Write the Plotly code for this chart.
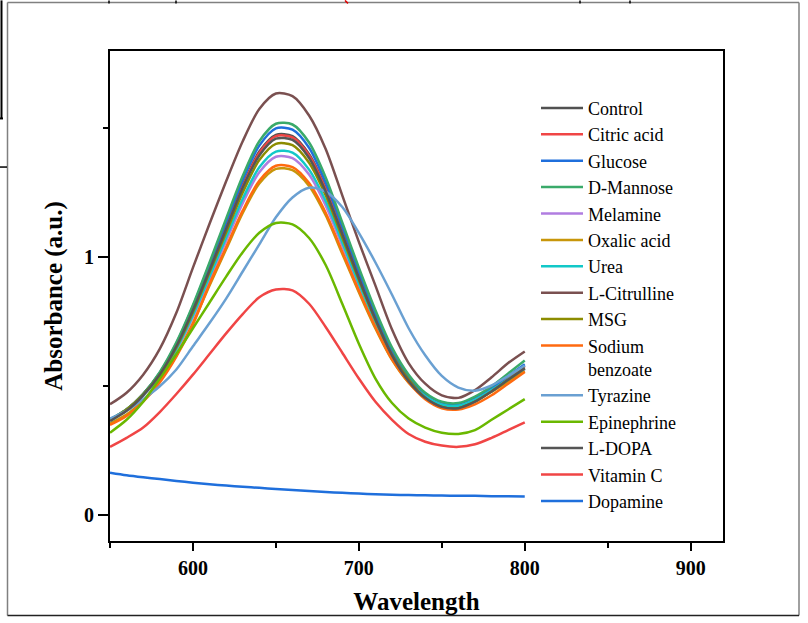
import plotly.graph_objects as go

wavelength = [550, 560, 570, 580, 590, 600, 610, 620, 630, 640, 650, 660, 670,
              680, 690, 700, 710, 720, 730, 740, 750, 760, 770, 780, 790, 800]

control = [0.37, 0.41, 0.47, 0.55, 0.66, 0.80, 0.96, 1.12, 1.28, 1.41, 1.475, 1.47, 1.40,
           1.27, 1.10, 0.93, 0.77, 0.63, 0.53, 0.465, 0.43, 0.425, 0.45, 0.49, 0.535, 0.58]
citric_acid = [0.37, 0.41, 0.47, 0.55, 0.66, 0.80, 0.955, 1.115, 1.275, 1.405, 1.47, 1.465, 1.395,
               1.265, 1.095, 0.925, 0.765, 0.625, 0.525, 0.46, 0.425, 0.42, 0.445, 0.485, 0.53, 0.575]
glucose = [0.37, 0.41, 0.47, 0.553, 0.666, 0.81, 0.973, 1.137, 1.30, 1.433, 1.50, 1.495, 1.425,
           1.29, 1.12, 0.945, 0.78, 0.64, 0.538, 0.47, 0.435, 0.43, 0.455, 0.495, 0.54, 0.585]
d_mannose = [0.37, 0.41, 0.47, 0.555, 0.67, 0.815, 0.98, 1.15, 1.315, 1.45, 1.518, 1.515, 1.445,
             1.31, 1.135, 0.96, 0.795, 0.65, 0.545, 0.475, 0.44, 0.435, 0.46, 0.50, 0.55, 0.60]
melamine = [0.372, 0.409, 0.464, 0.538, 0.639, 0.768, 0.916, 1.063, 1.21, 1.33, 1.39, 1.385, 1.321,
            1.201, 1.045, 0.888, 0.741, 0.612, 0.52, 0.46, 0.428, 0.423, 0.446, 0.483, 0.524, 0.566]
oxalic_acid = [0.355, 0.39, 0.445, 0.52, 0.62, 0.745, 0.891, 1.031, 1.172, 1.286, 1.343, 1.338, 1.277,
               1.163, 1.014, 0.865, 0.724, 0.602, 0.514, 0.457, 0.426, 0.422, 0.444, 0.479, 0.518, 0.558]
urea = [0.372, 0.41, 0.466, 0.541, 0.644, 0.776, 0.926, 1.077, 1.227, 1.349, 1.41, 1.406, 1.34,
        1.218, 1.058, 0.898, 0.748, 0.616, 0.522, 0.461, 0.428, 0.424, 0.447, 0.485, 0.527, 0.569]
l_citrulline = [0.43, 0.475, 0.545, 0.645, 0.785, 0.96, 1.13, 1.295, 1.45, 1.575, 1.635, 1.625, 1.55,
                1.42, 1.24, 1.06, 0.89, 0.72, 0.59, 0.51, 0.465, 0.455, 0.485, 0.535, 0.59, 0.635]
msg = [0.37, 0.41, 0.468, 0.545, 0.651, 0.787, 0.942, 1.096, 1.251, 1.377, 1.44, 1.435, 1.367,
       1.241, 1.077, 0.913, 0.758, 0.622, 0.526, 0.455, 0.42, 0.415, 0.44, 0.48, 0.525, 0.57]
sodium_benzoate = [0.35, 0.385, 0.44, 0.515, 0.615, 0.74, 0.897, 1.039, 1.181, 1.297, 1.355, 1.35, 1.288,
                   1.173, 1.022, 0.871, 0.729, 0.604, 0.515, 0.45, 0.415, 0.41, 0.43, 0.465, 0.51, 0.555]
tyrazine = [0.375, 0.405, 0.45, 0.50, 0.565, 0.655, 0.745, 0.84, 0.945, 1.05, 1.155, 1.232, 1.27,
            1.255, 1.195, 1.095, 0.98, 0.855, 0.725, 0.62, 0.54, 0.495, 0.483, 0.503, 0.54, 0.58]
epinephrine = [0.32, 0.37, 0.44, 0.53, 0.625, 0.725, 0.825, 0.925, 1.02, 1.095, 1.133, 1.128, 1.075,
               0.97, 0.82, 0.665, 0.53, 0.435, 0.375, 0.34, 0.32, 0.315, 0.33, 0.37, 0.41, 0.45]
l_dopa = [0.365, 0.405, 0.465, 0.545, 0.655, 0.795, 0.95, 1.11, 1.27, 1.395, 1.46, 1.455, 1.385,
          1.255, 1.09, 0.92, 0.76, 0.62, 0.52, 0.455, 0.42, 0.415, 0.44, 0.48, 0.525, 0.57]
vitamin_c = [0.265, 0.30, 0.34, 0.40, 0.47, 0.545, 0.625, 0.705, 0.78, 0.845, 0.875, 0.872, 0.82,
             0.73, 0.63, 0.53, 0.44, 0.37, 0.315, 0.285, 0.27, 0.265, 0.275, 0.30, 0.33, 0.36]
dopamine = [0.165, 0.155, 0.147, 0.14, 0.133, 0.126, 0.12, 0.115, 0.11, 0.106, 0.102, 0.098, 0.094,
            0.09, 0.087, 0.084, 0.081, 0.079, 0.078, 0.077, 0.076, 0.075, 0.075, 0.074, 0.074, 0.073]

series_names = ["Control", "Citric acid", "Glucose", "D-Mannose", "Melamine", "Oxalic acid",
                "Urea", "L-Citrulline", "MSG", "Sodium<br>benzoate", "Tyrazine", "Epinephrine",
                "L-DOPA", "Vitamin C", "Dopamine"]
series_values = [control, citric_acid, glucose, d_mannose, melamine, oxalic_acid, urea,
                 l_citrulline, msg, sodium_benzoate, tyrazine, epinephrine, l_dopa, vitamin_c, dopamine]
series_colors = ["#515151", "#f04545", "#1f6fdc", "#3aaa6a", "#b07de0", "#c8960a", "#12c8c8",
                 "#7a5050", "#8c8c00", "#ff6a10", "#6aa0d2", "#6ab800", "#555555", "#f04545", "#1f6fdc"]

FONT = "Liberation Serif, Times New Roman, serif"

fig = go.Figure()
for name, vals, col in zip(series_names, series_values, series_colors):
    fig.add_trace(go.Scatter(x=wavelength, y=vals, mode="lines", name=name,
                             line=dict(color=col, width=2.5, shape="spline", smoothing=0.8)))

W, H = 808, 623
L, R, T, B = 110, 85, 51, 78
PW, PH = W - L - R, H - T - B


def px_x(p):
    return (p - L) / PW


def px_y(p):
    return (H - B - p) / PH


shapes = []


def seg(x0, y0, x1, y1, color, width):
    shapes.append(dict(type="line", xref="paper", yref="paper",
                       x0=px_x(x0), y0=px_y(y0), x1=px_x(x1), y1=px_y(y1),
                       line=dict(color=color, width=width)))


# outer picture frame (cropped figure border)
seg(7.5, 2, 799, 2, "#808080", 1.5)
seg(7.5, 2, 7.5, 620, "#808080", 1.5)
seg(799, 2, 799, 620, "#808080", 1.5)
seg(7.5, 620, 799, 620, "#222222", 1.5)
# cropped remnants at the top-left / top edge
seg(1.5, 0, 1.5, 119, "#000000", 2)
seg(0, 119, 3, 119, "#000000", 2)
seg(0, 168, 7, 168, "#000000", 1.5)
for xx in [109, 176, 580, 630]:
    seg(xx, 0, xx, 3, "#000000", 1.5)
seg(345, 0, 348, 3, "#e00000", 1.5)

fig.update_layout(
    width=W, height=H,
    margin=dict(l=L, r=R, t=T, b=B, pad=0),
    paper_bgcolor="white", plot_bgcolor="white",
    font=dict(family=FONT, color="black"),
    showlegend=True,
    legend=dict(x=px_x(536), y=px_y(90), xanchor="left", yanchor="top",
                bgcolor="rgba(0,0,0,0)", font=dict(family=FONT, size=18, color="black"),
                itemwidth=42, valign="top", tracegroupgap=0),
    shapes=shapes,
)
fig.update_xaxes(range=[550, 919.5], tick0=600, dtick=100, showgrid=False, zeroline=False,
                 showline=True, linewidth=2, linecolor="black", mirror=True,
                 ticks="outside", ticklen=8, tickwidth=2, tickcolor="black",
                 minor=dict(ticks="outside", ticklen=5, tickwidth=2, tickcolor="black", dtick=50, tick0=550),
                 tickfont=dict(family=FONT, size=20, color="black", weight="bold"),
                 title=dict(text="<b>Wavelength</b>", font=dict(family=FONT, size=25, color="black"), standoff=14))
fig.update_yaxes(range=[-0.1, 1.8], tick0=0, dtick=1, showgrid=False, zeroline=False,
                 showline=True, linewidth=2, linecolor="black", mirror=True,
                 ticks="outside", ticklen=10, tickwidth=2, tickcolor="black",
                 minor=dict(ticks="outside", ticklen=5, tickwidth=2, tickcolor="black", dtick=0.5, tick0=0),
                 tickfont=dict(family=FONT, size=20, color="black", weight="bold"),
                 title=dict(text="<b>Absorbance (a.u.)</b>", font=dict(family=FONT, size=25, color="black"), standoff=14))

fig.write_html("out.html", config={"displayModeBar": False},
               post_script="document.body.style.margin='0';document.body.style.overflow='hidden';")
